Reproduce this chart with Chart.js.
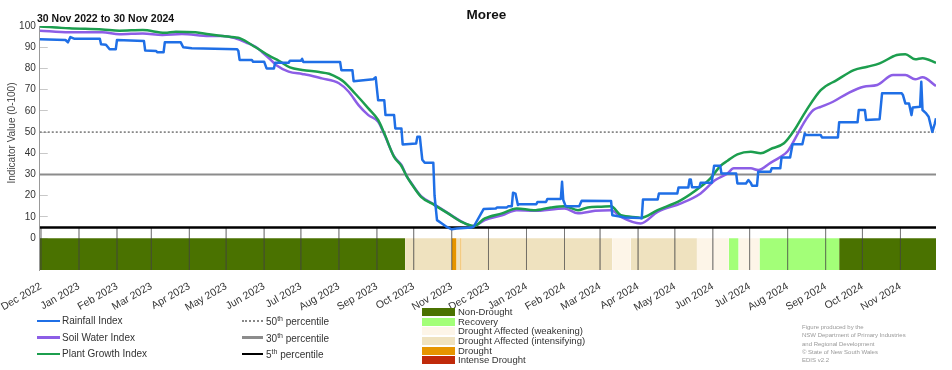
<!DOCTYPE html>
<html>
<head>
<meta charset="utf-8">
<script src="https://cdn.jsdelivr.net/npm/chart.js@4.4.1/dist/chart.umd.min.js"></script>
<style>
body { margin: 0; background: #fff; font-family: 'Liberation Sans', Arial, sans-serif; color: #222; }
#wrap { position: relative; width: 952px; height: 370px; overflow: hidden; }
.abs { position: absolute; white-space: nowrap; }
#title { left: 37px; width: 899px; top: 7px; text-align: center; font-weight: bold; font-size: 13.5px; line-height: 16px; color: #111; }
#subtitle { left: 37px; top: 12px; font-weight: bold; font-size: 10.5px; line-height: 12px; color: #111; }
#ytitle { left: -88px; top: 127px; width: 200px; text-align: center; font-size: 10px; line-height: 12px; color: #444; transform: rotate(-90deg); }
.sw { position: absolute; }
.lt { position: absolute; font-size: 10px; line-height: 12px; color: #333; white-space: nowrap; }
.lt sup { font-size: 7px; line-height: 0; vertical-align: 4px; }
.dt { position: absolute; font-size: 9.5px; line-height: 10px; color: #333; white-space: nowrap; }
.cr { position: absolute; left: 802px; font-size: 6px; line-height: 8px; color: #999; white-space: nowrap; }
</style>
</head>
<body>
<div id="wrap">
  <canvas id="grafico" width="952" height="370"></canvas>
  <div id="title" class="abs">Moree</div>
  <div id="subtitle" class="abs">30 Nov 2022 to 30 Nov 2024</div>
  <div id="ytitle" class="abs">Indicator Value (0-100)</div>
  <div id="leyenda"></div>
</div>
<script>
// Días contados desde el 30 Nov 2022
const rainfallIndex = [[0,93.7],[21,93.4],[23,92.3],[25,94.8],[28,94],[49,94],[50,91.4],[54,91.2],[57,89],[62,89],[63,93.4],[85,92.9],[86,88.4],[95,88.2],[96,87.6],[101,87.6],[102,92.3],[115,92.3],[117,90],[124,89.5],[161,89],[162,88.2],[163,84],[173,84],[174,83.2],[183,83.2],[185,80],[191,80],[192,82.7],[203,82.7],[204,83.6],[213,83.6],[214,84.5],[215,83],[245,83],[246,79.2],[255,79.2],[256,74],[272,74.9],[274,75.8],[276,65],[281,65],[282,58],[289,58],[290,51.7],[295,51.7],[296,44.2],[307,44.6],[308,47.8],[310,47.8],[312,37],[314,35.5],[321,35.5],[322,20],[324,8.5],[328,6.9],[332,5.3],[336,4.2],[340,4.6],[352,5],[354,5.5],[362,13.7],[372,14],[373,14.5],[381,14.5],[382,15],[385,15],[386,21.4],[388,21],[390,15.6],[391,16],[405,16],[406,17.1],[413,17.1],[414,18.5],[425,18.5],[426,26.6],[427,18],[429,15],[440,15],[442,17.6],[466,17.5],[467,10.8],[477,9.8],[490,9.5],[491,9.3],[492,18.2],[504,18.2],[505,21],[520,21],[521,23.9],[529,23.9],[530,27.7],[531,27.7],[532,24],[538,24],[539,26.1],[548,26.1],[550,34.1],[555,34.1],[556,30.5],[568,30.5],[569,25.8],[576,25.8],[578,27.4],[580,26],[581,24.7],[585,24.7],[586,31.3],[596,31.3],[597,32.9],[604,32.9],[605,38],[612,38],[614,44.3],[622,44.3],[624,49.4],[625,48.6],[637,48.6],[638,47.5],[651,47.5],[652,54.6],[667,54.6],[668,60.4],[673,60.4],[674,55.7],[685,56.1],[687,68.3],[703,68.3],[704,67.5],[706,63.5],[709,63.5],[711,58],[712,61.6],[718,61.9],[719,73.7],[720,60.4],[723,58.8],[725,57.2],[728,50.1],[730,54],[731,56.5]];

const soilWaterIndex = [[0,97.8],[24,97],[51,97],[65,96.1],[84,96.5],[100,95.8],[116,96.2],[138,95.3],[149,95.3],[159,94.3],[170,91.8],[176,90.2],[181,87.9],[187,84.8],[193,81.5],[203,78.5],[214,77.4],[219,76.9],[230,75.3],[244,73],[252,69],[260,62.7],[268,58],[276,54.9],[281,49],[289,38.5],[295,34.5],[299,29.5],[303,26],[311,19.8],[322,15.8],[333,11.8],[344,7.8],[354,5.7],[363,8.5],[377,10.8],[389,13.2],[403,12.9],[428,14],[439,11.7],[453,12.9],[466,13.2],[474,10],[490,6.9],[504,12.4],[523,16.4],[539,21.1],[551,27.4],[561,30.5],[566,32.9],[580,32.9],[586,32.1],[596,35.5],[604,38.3],[610,41],[619,50],[625,56],[631,60.4],[637,61.9],[647,64.3],[659,68.3],[672,71.4],[683,72.2],[696,76.9],[706,76.9],[714,74.9],[720,75.8],[731,71.7]];

const plantGrowthIndex = [[0,99.8],[24,98.9],[51,98.4],[65,97.8],[84,98.1],[102,96.8],[111,97.3],[127,97],[138,96.1],[149,95.3],[159,94.7],[163,94.3],[176,90],[187,86],[195,83.6],[204,80.5],[214,79.3],[228,78.3],[236,77.5],[244,75.3],[248,73.7],[257,68.3],[268,61.2],[276,55.7],[281,49.4],[289,38.3],[295,34],[299,29.5],[303,25.8],[311,19.5],[322,15.6],[333,11.7],[344,7.7],[354,5.7],[363,9.3],[377,11.7],[389,14],[403,13.2],[417,14.5],[428,15.1],[439,13.2],[447,14.5],[458,14.8],[466,15],[474,10.8],[488,9.8],[490,9.5],[504,13.2],[523,17.9],[539,24.2],[547,28.2],[555,34],[561,36.5],[569,39.5],[580,40.7],[588,40],[596,42],[607,44.7],[615,50.5],[625,60],[637,69.8],[650,74.5],[664,79.2],[675,80.8],[685,82.4],[699,86.3],[706,86.7],[714,84.3],[720,84.8],[731,82.7]];

// Percentiles
const percentileValues = [50, 30, 5];

// Categorías de sequía y tramos
const droughtCategories = ['Non-Drought', 'Recovery', 'Drought Affected (weakening)', 'Drought Affected (intensifying)', 'Drought', 'Intense Drought'];
const droughtColors = ['#4a7200', '#a3ff78', '#fdf5e8', '#efe2bf', '#e69500', '#c02a0a'];
const bandStart = [0, 298, 336, 340, 343, 344, 467, 482, 536, 562, 570, 587, 652];
const bandEnd = [298, 336, 340, 343, 344, 467, 482, 536, 562, 570, 587, 652, 731];
const bandCategory = [0, 3, 4, 3, 4, 3, 2, 3, 2, 1, 2, 1, 0];

// Etiquetas de meses
const monthLabels = ['Dec 2022','Jan 2023','Feb 2023','Mar 2023','Apr 2023','May 2023','Jun 2023','Jul 2023','Aug 2023','Sep 2023','Oct 2023','Nov 2023','Dec 2023','Jan 2024','Feb 2024','Mar 2024','Apr 2024','May 2024','Jun 2024','Jul 2024','Aug 2024','Sep 2024','Oct 2024','Nov 2024'];
const yTicks = [-7.5, 0, 10, 20, 30, 40, 50, 60, 70, 80, 90, 100];

const origen = Date.UTC(2022, 10, 30);
const monthDays = monthLabels.map((m, i) => (Date.UTC(2022, 11 + i, 1) - origen) / 86400000);

const toPoints = arr => arr.map(p => ({ x: p[0], y: p[1] }));

// Líneas verticales de meses (solo en la franja inferior)
const gridPoints = [];
monthDays.forEach(d => {
    gridPoints.push({ x: d, y: 5 }, { x: d, y: -15 }, { x: d, y: null });
});

const lineas = {
    pointRadius: 0,
    fill: false,
    borderJoinStyle: 'round'
};

const datasets = [
    Object.assign({ label: 'Rainfall Index', data: toPoints(rainfallIndex), borderColor: '#1f6fe6', borderWidth: 2.5, tension: 0 }, lineas),
    Object.assign({ label: 'Plant Growth Index', data: toPoints(plantGrowthIndex), borderColor: '#1c9e4e', borderWidth: 2.5, cubicInterpolationMode: 'monotone' }, lineas),
    Object.assign({ label: 'Soil Water Index', data: toPoints(soilWaterIndex), borderColor: '#8c5ee6', borderWidth: 2.5, cubicInterpolationMode: 'monotone' }, lineas),
    Object.assign({ label: '5th', data: [{ x: 0, y: percentileValues[2] }, { x: 731, y: percentileValues[2] }], borderColor: '#000', borderWidth: 2.5 }, lineas),
    Object.assign({ label: '30th', data: [{ x: 0, y: percentileValues[1] }, { x: 731, y: percentileValues[1] }], borderColor: '#8c8c8c', borderWidth: 2 }, lineas),
    Object.assign({ label: '50th', data: [{ x: 0, y: percentileValues[0] }, { x: 731, y: percentileValues[0] }], borderColor: '#888', borderWidth: 1.8, borderDash: [2, 2] }, lineas),
    Object.assign({ label: 'grid', data: gridPoints, borderColor: 'rgba(70,70,70,0.35)', borderWidth: 1, spanGaps: false }, lineas)
];

bandStart.forEach((s, i) => {
    datasets.push({
        label: droughtCategories[bandCategory[i]],
        data: [{ x: s, y: 0 }, { x: bandEnd[i], y: 0 }],
        backgroundColor: droughtColors[bandCategory[i]],
        borderWidth: 0,
        pointRadius: 0,
        fill: { value: -15 }
    });
});

Chart.defaults.font.family = "'Liberation Sans', Arial, sans-serif";

const ctx = document.getElementById('grafico');
const grafico = new Chart(ctx, {
    type: 'line',
    data: { datasets: datasets },
    options: {
        responsive: false,
        animation: false,
        layout: { padding: { top: 26, right: 16, left: 0, bottom: 0 } },
        plugins: { legend: { display: false }, tooltip: { enabled: false } },
        scales: {
            x: {
                type: 'linear',
                min: 0,
                max: 731,
                afterBuildTicks: s => { s.ticks = monthDays.map(v => ({ value: v })); },
                afterFit: s => { s.height = 100; },
                grid: { display: false },
                border: { display: false },
                ticks: {
                    autoSkip: false,
                    minRotation: 30,
                    maxRotation: 30,
                    padding: 2,
                    color: '#333',
                    font: { size: 10.5 },
                    callback: (v, i) => monthLabels[i]
                }
            },
            y: {
                min: -15,
                max: 100,
                afterBuildTicks: s => { s.ticks = yTicks.map(v => ({ value: v })); },
                afterFit: s => { s.width = 37; },
                grid: { drawOnChartArea: false, drawTicks: true, tickLength: -8, color: '#c8c8c8' },
                border: { color: '#999', width: 1 },
                ticks: {
                    padding: 12,
                    color: '#333',
                    font: { size: 10 },
                    callback: v => (v >= 0 ? v : '')
                }
            }
        }
    }
});

// Leyenda en HTML
const leyenda = document.getElementById('leyenda');
function agregar(html) { leyenda.insertAdjacentHTML('beforeend', html); }

const filas = [321, 337.5, 354];
const seriesLeyenda = [['Rainfall Index', '#1f6fe6'], ['Soil Water Index', '#8c5ee6'], ['Plant Growth Index', '#1c9e4e']];
seriesLeyenda.forEach((s, i) => {
    agregar('<div class="sw" style="left:37px;top:' + (filas[i] - 1.25) + 'px;width:23px;height:2.5px;background:' + s[1] + '"></div>');
    agregar('<div class="lt" style="left:62px;top:' + (filas[i] - 6) + 'px">' + s[0] + '</div>');
});

const percLeyenda = [['50', 'border-top:2px dotted #888;height:0'], ['30', 'background:#8c8c8c;height:2.5px'], ['5', 'background:#000;height:2.5px']];
percLeyenda.forEach((p, i) => {
    agregar('<div class="sw" style="left:242px;top:' + (filas[i] - 1.25) + 'px;width:21px;' + p[1] + '"></div>');
    agregar('<div class="lt" style="left:266px;top:' + (filas[i] - 5) + 'px">' + p[0] + '<sup>th</sup> percentile</div>');
});

droughtCategories.forEach((c, i) => {
    const y = 312 + i * 9.65;
    agregar('<div class="sw" style="left:422px;top:' + (y - 4) + 'px;width:33px;height:8px;background:' + droughtColors[i] + '"></div>');
    agregar('<div class="dt" style="left:458px;top:' + (y - 5) + 'px">' + c + '</div>');
});

const creditos = ['Figure produced by the', 'NSW Department of Primary Industries', 'and Regional Development', '© State of New South Wales', 'EDIS v2.2'];
creditos.forEach((t, i) => {
    agregar('<div class="cr" style="top:' + (323 + i * 8.25) + 'px">' + t + '</div>');
});
</script>
</body>
</html>
